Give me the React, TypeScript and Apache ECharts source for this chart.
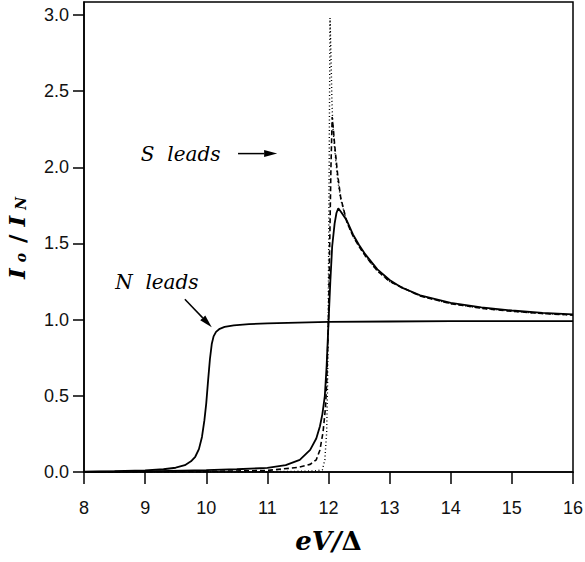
import React, { useEffect, useRef } from "react";
import * as echarts from "echarts";

const xTicks = [8, 9, 10, 11, 12, 13, 14, 15, 16];
const yTicks = [0, 0.5, 1.0, 1.5, 2.0, 2.5, 3.0];

const nLeadsX = [8, 8.5, 9, 9.3, 9.5, 9.65, 9.75, 9.82, 9.88, 9.93, 9.97, 10.0, 10.03, 10.06, 10.09, 10.12, 10.16, 10.22, 10.3, 10.45, 10.7, 11, 11.5, 12, 13, 14, 15, 16];
const nLeadsY = [0.003, 0.005, 0.01, 0.018, 0.028, 0.045, 0.07, 0.1, 0.15, 0.23, 0.34, 0.45, 0.6, 0.74, 0.84, 0.89, 0.92, 0.94, 0.952, 0.962, 0.97, 0.976, 0.981, 0.985, 0.988, 0.99, 0.99, 0.99];

const sSolidX = [8, 9, 10, 10.5, 11, 11.3, 11.53, 11.7, 11.8, 11.86, 11.9, 11.94, 11.97, 12.0, 12.03, 12.06, 12.1, 12.13, 12.16, 12.2, 12.3, 12.4, 12.5, 12.6, 12.8, 13, 13.2, 13.5, 14, 14.5, 15, 15.5, 16];
const sSolidY = [0.001, 0.004, 0.012, 0.018, 0.027, 0.045, 0.08, 0.145, 0.22, 0.3, 0.38, 0.5, 0.7, 0.98, 1.25, 1.48, 1.63, 1.7, 1.73, 1.71, 1.65, 1.56, 1.49, 1.43, 1.33, 1.26, 1.21, 1.16, 1.11, 1.08, 1.06, 1.045, 1.035];

const sDashedX = [8, 10, 11, 11.5, 11.7, 11.8, 11.86, 11.91, 11.95, 11.97, 12.0, 12.02, 12.04, 12.06, 12.08, 12.1, 12.15, 12.2, 12.3, 12.4, 12.5, 12.6, 12.8, 13, 13.5, 14, 14.5, 15, 15.5, 16];
const sDashedY = [0, 0.004, 0.01, 0.03, 0.05, 0.08, 0.145, 0.26, 0.42, 0.58, 1.0, 1.5, 2.0, 2.33, 2.25, 2.15, 1.95, 1.8, 1.64, 1.55, 1.48, 1.42, 1.32, 1.25, 1.155, 1.105, 1.075, 1.055, 1.04, 1.03];

const sDottedX = [8, 11, 11.6, 11.8, 11.9, 11.94, 11.97, 11.985, 11.995, 12.005, 12.015, 12.025, 12.04, 12.055, 12.07, 12.1, 12.15, 12.2, 12.3, 12.4, 12.5, 12.6, 12.8, 13, 13.5, 14, 14.5, 15, 15.5, 16];
const sDottedY = [0, 0.002, 0.005, 0.008, 0.015, 0.08, 0.26, 0.58, 1.0, 1.6, 2.3, 2.98, 2.75, 2.45, 2.28, 2.12, 1.92, 1.79, 1.64, 1.55, 1.48, 1.42, 1.32, 1.25, 1.155, 1.105, 1.075, 1.055, 1.04, 1.03];

const labelFont = "'Liberation Sans', Arial, sans-serif";
const serifFont = "'DejaVu Serif', 'Liberation Serif', serif";

export default function App() {
  const ref = useRef<HTMLDivElement>(null);
  useEffect(() => {
    const chart = echarts.init(ref.current!, null, { renderer: "svg" });
    const pairs = (xs: number[], ys: number[]) => xs.map((x, i) => [x, ys[i]]);
    const lineSeries = (name: string, xs: number[], ys: number[], width: number, type: any) => ({
      name,
      type: "line",
      data: pairs(xs, ys),
      showSymbol: false,
      symbol: "none",
      lineStyle: { color: "#000", width, type },
      z: 3,
    });
    chart.setOption({
      animation: false,
      backgroundColor: "#fff",
      grid: {
        left: 84,
        top: 2,
        right: 12,
        bottom: 90,
        containLabel: false,
        outerBoundsMode: "none",
        show: true,
        borderColor: "#000",
        borderWidth: 1.5,
        backgroundColor: "transparent",
      },
      xAxis: {
        type: "value",
        min: 8,
        max: 16,
        interval: 1,
        name: "{it|eV/}{up|Δ}",
        nameLocation: "middle",
        nameGap: 56,
        nameTextStyle: {
          rich: {
            it: { fontFamily: serifFont, fontStyle: "italic", fontWeight: "bold", fontSize: 26, color: "#000" },
            up: { fontFamily: serifFont, fontWeight: "bold", fontSize: 26, color: "#000" },
          },
        },
        axisLine: { show: true, lineStyle: { color: "#000", width: 1.5 } },
        axisTick: { show: true, inside: false, length: 12, lineStyle: { color: "#000", width: 1.5 }, customValues: xTicks },
        axisLabel: {
          customValues: xTicks,
          margin: 27,
          fontFamily: labelFont,
          fontSize: 18,
          color: "#111",
          formatter: (v: number) => String(v),
        },
        splitLine: { show: false },
      },
      yAxis: {
        type: "value",
        min: 0,
        max: 3.085,
        interval: 0.5,
        name: "{i|I}{s|o}{g|/}{i|I}{s|N}",
        nameLocation: "middle",
        nameRotate: 90,
        nameGap: 56,
        nameTextStyle: {
          rich: {
            i: { fontFamily: serifFont, fontStyle: "italic", fontWeight: "bold", fontSize: 23, color: "#000", padding: [0, 3, 0, 3] },
            s: { fontFamily: serifFont, fontStyle: "italic", fontWeight: "bold", fontSize: 14, color: "#000", verticalAlign: "bottom", padding: [0, 5, 0, 3] },
            g: { fontFamily: serifFont, fontWeight: "bold", fontSize: 23, color: "#000", padding: [0, 5, 0, 5] },
          },
        },
        axisLine: { show: true, lineStyle: { color: "#000", width: 1.5 } },
        axisTick: { show: true, inside: false, length: 11, lineStyle: { color: "#000", width: 1.5 }, customValues: yTicks },
        axisLabel: {
          customValues: yTicks,
          margin: 15,
          fontFamily: labelFont,
          fontSize: 18,
          color: "#111",
          formatter: (v: number) => v.toFixed(1),
        },
        splitLine: { show: false },
      },
      series: [
        lineSeries("N leads", nLeadsX, nLeadsY, 1.8, "solid"),
        lineSeries("S leads solid", sSolidX, sSolidY, 1.8, "solid"),
        lineSeries("S leads dashed", sDashedX, sDashedY, 1.6, [5, 3]),
        lineSeries("S leads dotted", sDottedX, sDottedY, 1.4, [1, 2.5]),
      ],
    });

    const p = (x: number, y: number) => chart.convertToPixel({ gridIndex: 0 }, [x, y]) as number[];
    const arrow = (from: number[], to: number[]) => {
      const dx = to[0] - from[0];
      const dy = to[1] - from[1];
      const len = Math.sqrt(dx * dx + dy * dy);
      const ux = dx / len, uy = dy / len;
      const hl = 13, hw = 3.5;
      const bx = to[0] - ux * hl, by = to[1] - uy * hl;
      return [
        { type: "line", shape: { x1: from[0], y1: from[1], x2: bx, y2: by }, style: { stroke: "#000", lineWidth: 1.5 }, z: 10 },
        {
          type: "polygon",
          shape: { points: [[to[0], to[1]], [bx - uy * hw, by + ux * hw], [bx + uy * hw, by - ux * hw]] },
          style: { fill: "#000" },
          z: 10,
        },
      ];
    };
    const sText = p(8.93, 2.09);
    const nText = p(8.51, 1.25);
    const annFont = { fontFamily: serifFont, fontStyle: "italic", fontWeight: 500, fontSize: 20, fill: "#000", verticalAlign: "middle", align: "left" };
    chart.setOption({
      graphic: [
        { type: "text", x: sText[0], y: sText[1], style: { text: "S  leads", ...annFont }, z: 10 },
        ...arrow(p(10.52, 2.09), p(11.16, 2.09)),
        { type: "text", x: nText[0], y: nText[1], style: { text: "N  leads", ...annFont }, z: 10 },
        ...arrow(p(9.65, 1.134), p(10.09, 0.95)),
      ],
    });
    return () => chart.dispose();
  }, []);
  return <div ref={ref} style={{ position: "absolute", left: 0, top: 0, width: 585, height: 562 }} />;
}
